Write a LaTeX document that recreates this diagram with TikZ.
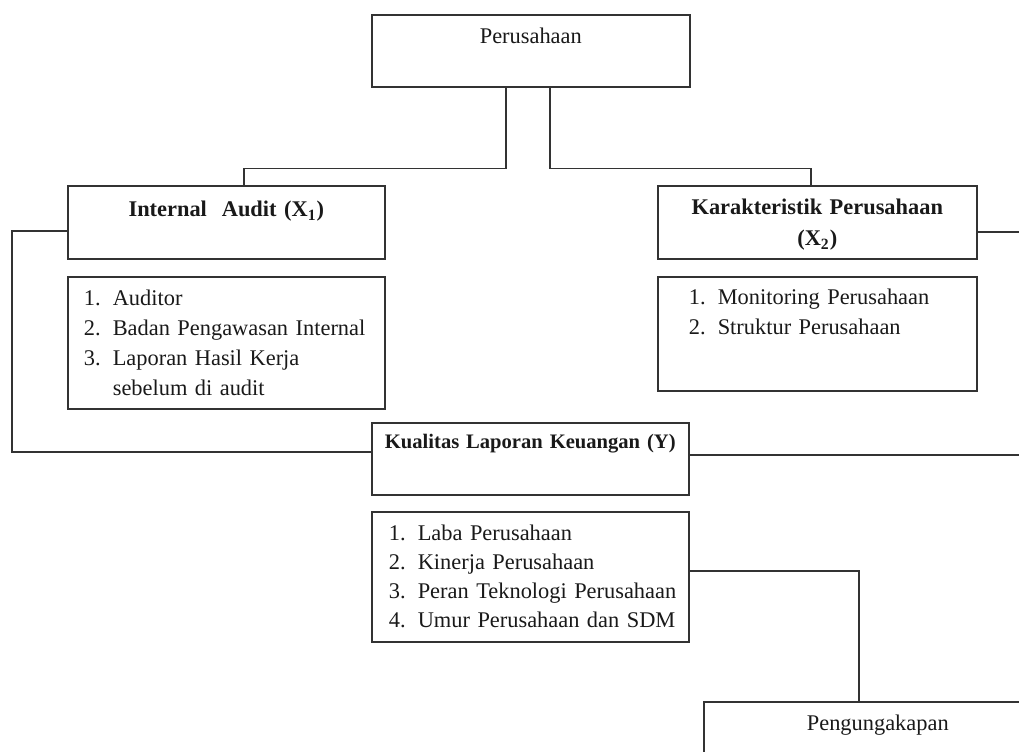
\documentclass[tikz,border=0pt]{standalone}
\usepackage{fontspec}
\setmainfont{Liberation Serif}
\newcommand{\butir}[2]{\makebox[14.5pt][l]{#1}\mbox{#2}}
\tikzset{
  kotak/.style={draw=black!80, line width=0.8pt, rectangle, anchor=north west,
    inner ysep=0pt, text=black!90},
  judul/.style={kotak, inner xsep=0pt, align=center},
  daftar/.style={kotak, align=left, font=\fontsize{11.2}{15}\selectfont},
  garis/.style={draw=black!80, line width=0.8pt}
}
\begin{document}
\begin{tikzpicture}[x=0.5pt,y=-0.5pt]

\clip (0,0) rectangle (1019,751);

% kotak utama
\node[judul, font=\fontsize{11.2}{15}\selectfont, text width=159pt,
  text height=14.5pt, text depth=21.5pt] (perusahaan) at (371,14) {Perusahaan};

% variabel X
\node[judul, font=\bfseries\fontsize{11.2}{15.5}\selectfont, text width=158.5pt,
  text height=15.5pt, text depth=21pt] (internal) at (67,185)
  {Internal\ \ Audit (X\textsubscript{1})};
\node[judul, font=\bfseries\fontsize{11.2}{15.5}\selectfont, text width=159.5pt,
  text height=14.5pt, text depth=22pt] (karakter) at (657,185)
  {Karakteristik Perusahaan\\(X\textsubscript{2})};

\node[daftar, inner xsep=8pt, text width=142.5pt, text height=14.5pt,
  text depth=51.5pt] (daftarX1) at (67,276)
  {\butir{1.}{Auditor}\\
   \butir{2.}{Badan Pengawasan Internal}\\
   \butir{3.}{Laporan Hasil Kerja}\\
   \butir{}{sebelum di audit}};
\node[daftar, inner xsep=15.5pt, text width=128.5pt, text height=14pt,
  text depth=43pt] (daftarX2) at (657,276)
  {\butir{1.}{Monitoring Perusahaan}\\
   \butir{2.}{Struktur Perusahaan}};

% variabel Y
\node[judul, font=\bfseries\fontsize{10.3}{14}\selectfont, text width=158.5pt,
  text height=13pt, text depth=23pt] (kualitas) at (371,422)
  {Kualitas Laporan Keuangan (Y)};
\node[daftar, font=\fontsize{11.2}{14.5}\selectfont, inner xsep=8.5pt,
  text width=141.5pt, text height=14.5pt, text depth=50.5pt] (daftarY) at (371,511)
  {\butir{1.}{Laba Perusahaan}\\
   \butir{2.}{Kinerja Perusahaan}\\
   \butir{3.}{Peran Teknologi Perusahaan}\\
   \butir{4.}{Umur Perusahaan dan SDM}};

\node[judul, font=\fontsize{11.2}{15}\selectfont, text width=174pt,
  text height=14.5pt, text depth=21.5pt] (peng) at (703,701) {Pengungakapan};

% garis penghubung
\coordinate (relkiri) at (12,340);
\coordinate (relkanan) at (1040,340);

\draw[garis] ([xshift=-12.5pt]perusahaan.south) -- ++(0,81) -| ([xshift=8.75pt]internal.north);
\draw[garis] ([xshift=9.5pt]perusahaan.south) -- ++(0,81) -| ([xshift=-3.25pt]karakter.north);
\draw[garis] ([yshift=-4.25pt]internal.west) -| (relkiri) |- ([yshift=3.5pt]kualitas.west);
\draw[garis] ([yshift=-4.75pt]karakter.east) -| (relkanan) |- ([yshift=2pt]kualitas.east);
\draw[garis] ([yshift=3pt]daftarY.east) -| ([xshift=-9.5pt]peng.north);

\end{tikzpicture}
\end{document}
